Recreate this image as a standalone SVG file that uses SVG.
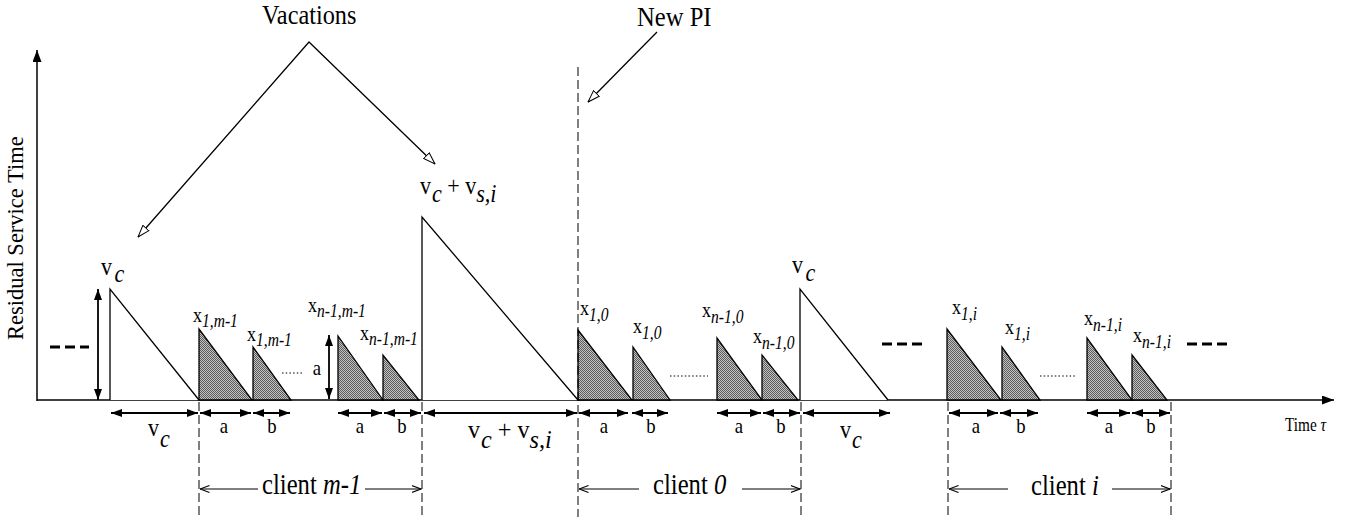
<svg xmlns="http://www.w3.org/2000/svg" width="1348" height="523" viewBox="0 0 1348 523">
<style>
.t{font-family:"Liberation Serif","Times New Roman",serif;fill:#000}
.it{font-style:italic}
.ln{stroke:#000;fill:none;stroke-width:1.3}
.tri{stroke:#000;fill:#fff;stroke-width:1.3}
.sh{stroke:#000;fill:url(#hatch);stroke-width:1.3}
.dim{stroke:#000;stroke-width:1.8;fill:none;marker-start:url(#fa);marker-end:url(#fa)}
.dash{stroke:#000;stroke-width:1;stroke-dasharray:9 4;fill:none}
.cl{stroke:#000;stroke-width:1.2;fill:none}
.gap{stroke:#000;stroke-width:3;stroke-dasharray:10 5;fill:none}
.dot{stroke:#000;stroke-width:1.2;stroke-dasharray:1.5 2.2;fill:none}
.ab{font-size:22px}
.xl{font-size:22px}
.xs{font-size:19px;font-style:italic}
.vl{font-size:26px}
</style>
<defs>
<pattern id="hatch" width="2" height="2" patternUnits="userSpaceOnUse"><rect width="2" height="2" fill="#c4c4c4"/><rect width="1" height="1" fill="#5a5a5a"/><rect x="1" y="1" width="1" height="1" fill="#5a5a5a"/></pattern>
<marker id="fa" viewBox="0 0 11 8" refX="11" refY="4" markerWidth="11" markerHeight="8" markerUnits="userSpaceOnUse" orient="auto-start-reverse"><path d="M0,0 L11,4 L0,8 z" fill="#000"/></marker>
<marker id="ax" viewBox="0 0 12 9" refX="12" refY="4.5" markerWidth="12" markerHeight="9" markerUnits="userSpaceOnUse" orient="auto"><path d="M0,0 L12,4.5 L0,9 z" fill="#000"/></marker>
<marker id="oa" viewBox="0 0 13 9" refX="12.5" refY="4.5" markerWidth="13" markerHeight="9" markerUnits="userSpaceOnUse" orient="auto-start-reverse"><path d="M0.5,0.5 L12.5,4.5 L0.5,8.5 z" fill="#fff" stroke="#000" stroke-width="1"/></marker>
<marker id="va" viewBox="0 0 10 8" refX="9.5" refY="4" markerWidth="10" markerHeight="8" markerUnits="userSpaceOnUse" orient="auto-start-reverse"><path d="M0,0.5 L9.5,4 L0,7.5" fill="none" stroke="#000" stroke-width="1.1"/></marker>
</defs>
<rect width="1348" height="523" fill="#fff"/>

<g id="axes">
<line x1="37" y1="401" x2="37" y2="50" stroke="#000" stroke-width="1.5" marker-end="url(#ax)"/>
<line x1="37" y1="400" x2="1334" y2="400" stroke="#000" stroke-width="1.5" marker-end="url(#ax)"/>
<text class="t" font-size="22.5" transform="translate(23,340) rotate(-90)">Residual Service Time</text>
<text class="t" font-size="18" transform="translate(1285,431) scale(0.85,1)">Time <tspan class="it">τ</tspan></text>
</g>

<g id="vacation-c-left">
<polyline class="tri" points="110,400 110,289 199,400"/>
<text class="t vl" transform="translate(101,275) scale(0.85,1)">v<tspan class="it" dx="3" dy="7">c</tspan></text>
</g>
<g id="vacation-cs">
<polyline class="tri" points="422,400 422,217 578,400"/>
<text class="t vl" transform="translate(420,194) scale(0.85,1)">v<tspan class="it" dx="1" dy="8">c</tspan><tspan dy="-8"> + v</tspan><tspan class="it" dy="8">s,i</tspan></text>
</g>
<g id="vacation-c-right">
<polyline class="tri" points="800,400 800,289 888,400"/>
<text class="t vl" transform="translate(792,273) scale(0.85,1)">v<tspan class="it" dx="3" dy="8">c</tspan></text>
</g>

<g id="client-m-1">
<polygon class="sh" points="199,400 199,329 252,400"/>
<polygon class="sh" points="253,400 253,347 291,400"/>
<polygon class="sh" points="338,400 338,336 383,400"/>
<polygon class="sh" points="383,400 383,355 419,400"/>
<text class="t xl" transform="translate(193,322) scale(0.82,1)">x<tspan class="xs" dy="5">1,m-1</tspan></text>
<text class="t xl" transform="translate(247,341) scale(0.82,1)">x<tspan class="xs" dy="5">1,m-1</tspan></text>
<text class="t xl" transform="translate(308,312) scale(0.82,1)">x<tspan class="xs" dy="5">n-1,m-1</tspan></text>
<text class="t xl" transform="translate(360,340) scale(0.82,1)">x<tspan class="xs" dy="5">n-1,m-1</tspan></text>
</g>

<g id="client-0">
<polygon class="sh" points="578,400 578,330 632,400"/>
<polygon class="sh" points="633,400 633,347 670,400"/>
<polygon class="sh" points="717,400 717,338 762,400"/>
<polygon class="sh" points="762,400 762,355 798,400"/>
<text class="t xl" transform="translate(580,315) scale(0.82,1)">x<tspan class="xs" dy="6">1,0</tspan></text>
<text class="t xl" transform="translate(633,333) scale(0.82,1)">x<tspan class="xs" dy="6">1,0</tspan></text>
<text class="t xl" transform="translate(702,317) scale(0.82,1)">x<tspan class="xs" dy="6">n-1,0</tspan></text>
<text class="t xl" transform="translate(753,343) scale(0.82,1)">x<tspan class="xs" dy="6">n-1,0</tspan></text>
</g>

<g id="client-i">
<polygon class="sh" points="947,400 947,329 1001,400"/>
<polygon class="sh" points="1002,400 1002,347 1040,400"/>
<polygon class="sh" points="1087,400 1087,338 1132,400"/>
<polygon class="sh" points="1132,400 1132,355 1167,400"/>
<text class="t xl" transform="translate(952,314) scale(0.82,1)">x<tspan class="xs" dy="6">1,i</tspan></text>
<text class="t xl" transform="translate(1005,334) scale(0.82,1)">x<tspan class="xs" dy="6">1,i</tspan></text>
<text class="t xl" transform="translate(1084,325) scale(0.82,1)">x<tspan class="xs" dy="6">n-1,i</tspan></text>
<text class="t xl" transform="translate(1133,342) scale(0.82,1)">x<tspan class="xs" dy="6">n-1,i</tspan></text>
</g>

<g id="ellipses">
<line class="gap" x1="50" y1="347" x2="89" y2="347"/>
<line class="gap" x1="882" y1="344" x2="922" y2="344"/>
<line class="gap" x1="1187" y1="344" x2="1227" y2="344"/>
<line class="dot" x1="282" y1="373" x2="303" y2="373"/>
<line class="dot" x1="670" y1="376" x2="708" y2="376"/>
<line class="dot" x1="1040" y1="376" x2="1077" y2="376"/>
</g>

<g id="titles">
<text class="t" font-size="27" transform="translate(262,24) scale(0.9,1)">Vacations</text>
<text class="t" font-size="28" transform="translate(637,26) scale(0.88,1)">New PI</text>
</g>

<g id="connectors">
<polyline class="ln" points="138,237 309,42 435,164" marker-start="url(#oa)" marker-end="url(#oa)"/>
<line class="ln" x1="657" y1="32" x2="588" y2="102" marker-end="url(#oa)"/>
<line class="dash" x1="578" y1="67" x2="578" y2="517"/>
<line class="dash" x1="199" y1="402" x2="199" y2="515"/>
<line class="dash" x1="422" y1="402" x2="422" y2="518"/>
<line class="dash" x1="801" y1="402" x2="801" y2="517"/>
<line class="dash" x1="948" y1="402" x2="948" y2="518"/>
<line class="dash" x1="1171" y1="402" x2="1171" y2="518"/>
<line class="dim" x1="98" y1="289" x2="98" y2="400"/>
<line class="dim" x1="329" y1="335" x2="329" y2="399"/>
<line class="dim" x1="111" y1="413" x2="198" y2="413"/>
<line class="dim" x1="200" y1="413" x2="251" y2="413"/>
<line class="dim" x1="253" y1="413" x2="290" y2="413"/>
<line class="dim" x1="338" y1="413" x2="382" y2="413"/>
<line class="dim" x1="384" y1="413" x2="421" y2="413"/>
<line class="dim" x1="424" y1="413" x2="577" y2="413"/>
<line class="dim" x1="579" y1="413" x2="628" y2="413"/>
<line class="dim" x1="632" y1="413" x2="668" y2="413"/>
<line class="dim" x1="717" y1="413" x2="761" y2="413"/>
<line class="dim" x1="763" y1="413" x2="800" y2="413"/>
<line class="dim" x1="803" y1="413" x2="890" y2="413"/>
<line class="dim" x1="949" y1="413" x2="998" y2="413"/>
<line class="dim" x1="1000" y1="413" x2="1038" y2="413"/>
<line class="dim" x1="1087" y1="413" x2="1130" y2="413"/>
<line class="dim" x1="1132" y1="413" x2="1170" y2="413"/>
<line class="cl" x1="258" y1="489" x2="200" y2="489" marker-end="url(#va)"/>
<line class="cl" x1="365" y1="489" x2="421" y2="489" marker-end="url(#va)"/>
<line class="cl" x1="639" y1="489" x2="579" y2="489" marker-end="url(#va)"/>
<line class="cl" x1="742" y1="489" x2="800" y2="489" marker-end="url(#va)"/>
<line class="cl" x1="1008" y1="489" x2="949" y2="489" marker-end="url(#va)"/>
<line class="cl" x1="1112" y1="489" x2="1170" y2="489" marker-end="url(#va)"/>
</g>

<g id="dim-labels">
<text class="t vl" transform="translate(148,436) scale(0.85,1)">v<tspan class="it" dx="1" dy="11">c</tspan></text>
<text class="t vl" transform="translate(468,438) scale(0.93,1)">v<tspan class="it" dx="1" dy="10">c</tspan><tspan dy="-10"> + v</tspan><tspan class="it" dy="10">s,i</tspan></text>
<text class="t vl" transform="translate(840,438) scale(0.85,1)">v<tspan class="it" dx="1" dy="10">c</tspan></text>
<text class="t ab" transform="translate(317,375) scale(0.85,1)" text-anchor="middle">a</text>
<text class="t ab" transform="translate(224,433) scale(0.85,1)" text-anchor="middle">a</text>
<text class="t ab" transform="translate(272,433) scale(0.85,1)" text-anchor="middle">b</text>
<text class="t ab" transform="translate(360,433) scale(0.85,1)" text-anchor="middle">a</text>
<text class="t ab" transform="translate(402,433) scale(0.85,1)" text-anchor="middle">b</text>
<text class="t ab" transform="translate(604,433) scale(0.85,1)" text-anchor="middle">a</text>
<text class="t ab" transform="translate(651,433) scale(0.85,1)" text-anchor="middle">b</text>
<text class="t ab" transform="translate(739,433) scale(0.85,1)" text-anchor="middle">a</text>
<text class="t ab" transform="translate(781,433) scale(0.85,1)" text-anchor="middle">b</text>
<text class="t ab" transform="translate(976,433) scale(0.85,1)" text-anchor="middle">a</text>
<text class="t ab" transform="translate(1021,433) scale(0.85,1)" text-anchor="middle">b</text>
<text class="t ab" transform="translate(1109,433) scale(0.85,1)" text-anchor="middle">a</text>
<text class="t ab" transform="translate(1151,433) scale(0.85,1)" text-anchor="middle">b</text>
<text class="t" font-size="29" transform="translate(262,494) scale(0.85,1)">client <tspan class="it">m-1</tspan></text>
<text class="t" font-size="29" transform="translate(653,494) scale(0.85,1)">client <tspan class="it">0</tspan></text>
<text class="t" font-size="29" transform="translate(1031,495) scale(0.85,1)">client <tspan class="it">i</tspan></text>
</g>
</svg>
